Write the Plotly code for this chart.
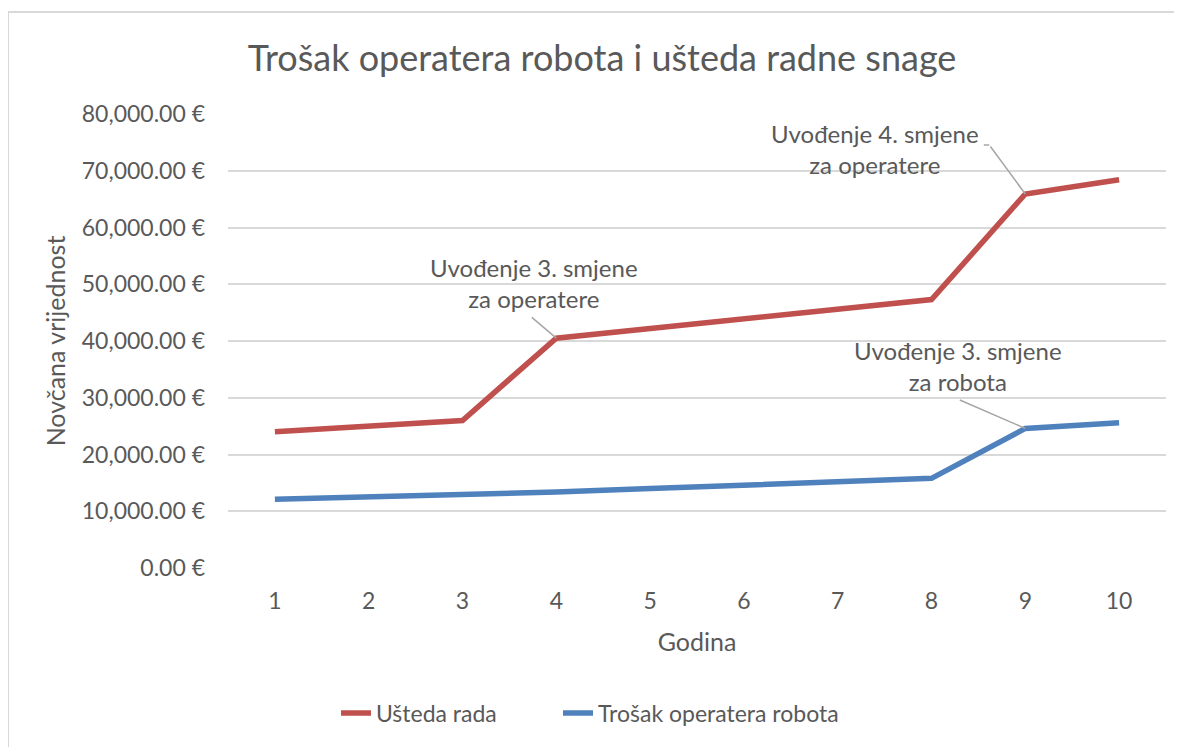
import plotly.graph_objects as go

# Data
godine = [1, 2, 3, 4, 5, 6, 7, 8, 9, 10]
usteda_rada = [24000, 24900, 26000, 40500, 42200, 43900, 45600, 47300, 65900, 68400]
trosak_operatera = [12100, 12500, 12900, 13400, 14000, 14600, 15200, 15800, 24600, 25600]

y_ticks = [0, 10000, 20000, 30000, 40000, 50000, 60000, 70000, 80000]
y_tick_labels = [f"{v:,.2f} €" for v in y_ticks]

RED = "#C0504D"
BLUE = "#4F81BD"
TEXT = "#595959"
GRID = "#D9D9D9"
FONT = "Lato"

# the page body adds an 8px margin, so the figure is drawn 8px smaller
W, H = 1174, 739

fig = go.Figure()

fig.add_trace(go.Scatter(
    x=godine, y=usteda_rada, mode="lines", name="Ušteda rada",
    line=dict(color=RED, width=5.5), legend="legend",
))
fig.add_trace(go.Scatter(
    x=godine, y=trosak_operatera, mode="lines", name="Trošak operatera robota",
    line=dict(color=BLUE, width=5.5), legend="legend2",
))

# annotations: (series, index, text, text offset, leader tail offset)
notes = [
    (usteda_rada, 3, "Uvođenje 3. smjene<br>za operatere", (-22, 55), (-26, -22)),
    (usteda_rada, 8, "Uvođenje 4. smjene<br>za operatere", (-150, 45), (-36, -49)),
    (trosak_operatera, 8, "Uvođenje 3. smjene<br>za robota", (-67, 62), (-67, -29)),
]
for series, i, text, (xs, ys), (ax, ay) in notes:
    fig.add_annotation(
        x=godine[i], y=series[i], xref="x", yref="y", text=text,
        showarrow=False, xshift=xs, yshift=ys,
        font=dict(family=FONT, size=24, color=TEXT),
    )
    fig.add_annotation(
        x=godine[i], y=series[i], xref="x", yref="y", text="",
        showarrow=True, arrowhead=0, arrowwidth=1.5, arrowcolor="#A6A6A6",
        ax=ax, ay=ay,
    )

# little horizontal tick at the top of the 4th-shift leader
fig.add_annotation(
    x=godine[8], y=usteda_rada[8], xref="x", yref="y", text="",
    showarrow=True, arrowhead=0, arrowwidth=1.5, arrowcolor="#A6A6A6",
    xshift=-36, yshift=49, ax=-7, ay=0,
)

# outer chart frame (cut off at right and bottom like the screenshot)
fig.add_shape(
    type="rect", xref="paper", yref="paper",
    x0=-0.2345, x1=1.2, y0=-0.6, y1=1.2247,
    line=dict(color=GRID, width=2), layer="below",
)

legend_common = dict(
    orientation="h", xref="container", yref="container",
    xanchor="left", y=1 - 705 / H, yanchor="middle",
    font=dict(size=23, color=TEXT), bgcolor="rgba(0,0,0,0)",
)

fig.update_layout(
    width=W, height=H,
    margin=dict(l=220, r=16, t=106, b=179),
    paper_bgcolor="white", plot_bgcolor="white",
    font=dict(family=FONT, color=TEXT),
    title=dict(
        text="Trošak operatera robota i ušteda radne snage",
        x=594 / W, xref="container", xanchor="center",
        y=1 - 50 / H, yref="container", yanchor="middle",
        font=dict(family=FONT, size=36, color=TEXT),
    ),
    xaxis=dict(
        tickmode="array", tickvals=godine, range=[0.5, 10.5],
        showgrid=False, zeroline=False, showline=False, ticks="",
        ticklabelstandoff=17,
        tickfont=dict(size=23, color=TEXT),
        title=dict(text="Godina", font=dict(size=25, color=TEXT), standoff=20),
    ),
    yaxis=dict(
        tickmode="array", tickvals=y_ticks, ticktext=y_tick_labels,
        range=[0, 80000],
        showgrid=True, gridcolor=GRID, gridwidth=1.5,
        zeroline=False, showline=False, ticks="", ticklabelstandoff=22,
        tickfont=dict(size=23, color=TEXT),
        title=dict(text="Novčana vrijednost", font=dict(size=25, color=TEXT), standoff=8),
    ),
    legend=dict(x=328 / W, **legend_common),
    legend2=dict(x=550 / W, **legend_common),
    showlegend=True,
)

fig.write_html("out.html")
